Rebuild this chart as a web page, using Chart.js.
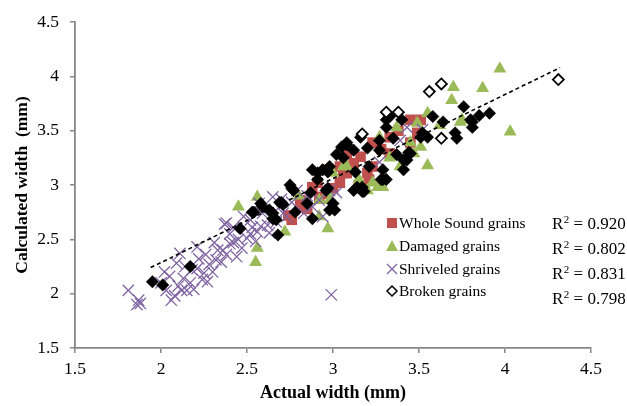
<!DOCTYPE html>
<html>
<head>
<meta charset="utf-8">
<script src="https://cdn.jsdelivr.net/npm/chart.js@4/dist/chart.umd.min.js"></script>
<style>
  body { margin: 0; background: #fff; }
  #wrap { width: 627px; height: 406px; position: relative; }
</style>
</head>
<body>
<div id="wrap"><canvas id="chartGrains"></canvas></div>
<script>
const wholeSound = [
  [2.76,2.68],[2.81,2.86],[2.91,3.02],[2.92,2.89],[3.06,3.11],[3.04,3.02],[2.74,2.72],[2.81,2.80],
  [2.96,3.14],[3.04,3.17],[3.20,3.11],[3.23,3.39],[3.21,3.05],[3.33,3.44],[3.45,3.60],[3.45,3.39],
  [3.49,3.48],[3.16,3.26],[3.08,3.29],[3.51,3.60],[3.33,3.29],[3.23,3.17],[3.08,3.11],[2.88,2.98],
  [2.85,2.78],[3.00,2.97],[3.12,3.20],[3.28,3.33],[3.38,3.50],[3.15,3.00],[2.96,2.92]
];
const damaged = [
  [2.45,2.80],[2.56,2.42],[2.55,2.29],[2.72,2.57],[2.92,2.71],[2.97,2.60],[2.56,2.89],[2.92,2.86],
  [2.98,2.86],[3.08,3.17],[3.97,4.07],[3.87,3.89],[3.70,3.90],[3.69,3.78],[4.03,3.49],[3.55,3.18],
  [3.74,3.58],[3.49,3.57],[3.55,3.66],[3.45,3.39],[3.51,3.35],[3.39,3.17],[3.23,3.02],[3.06,3.17],
  [2.97,2.93],[3.29,2.98],[3.26,2.98],[3.20,2.95],[3.47,3.29],[3.37,3.53],[3.27,3.44],[3.00,3.11],
  [3.75,3.60],[2.80,2.90],[3.62,3.55],[3.15,3.05],[3.33,3.25]
];
const shriveled = [
  [1.81,2.03],[1.86,1.90],[1.87,1.94],[1.88,1.91],[2.02,2.20],[2.05,2.16],[2.06,1.94],[2.03,2.03],
  [2.11,2.37],[2.21,2.43],[2.12,2.03],[2.17,2.10],[2.25,2.19],[2.27,2.11],[2.09,2.28],[2.21,2.23],
  [2.32,2.31],[2.36,2.40],[2.38,2.65],[2.40,2.46],[2.44,2.34],[2.08,1.98],[2.15,2.03],[2.24,2.13],
  [2.30,2.20],[2.38,2.36],[2.42,2.47],[2.50,2.51],[2.56,2.57],[2.62,2.63],[2.65,2.70],[2.59,2.74],
  [2.71,2.74],[2.37,2.64],[2.42,2.61],[2.48,2.71],[2.53,2.61],[2.59,2.77],[2.65,2.89],[2.69,2.80],
  [2.73,2.71],[2.79,2.95],[2.83,2.74],[2.88,2.80],[2.94,2.71],[2.98,2.95],[3.02,2.93],[3.27,3.21],
  [3.39,3.41],[3.43,3.53],[3.52,3.51],[2.99,1.99],[2.13,2.14],[2.18,2.22],[2.22,2.32],[2.28,2.27],
  [2.33,2.40],[2.35,2.29],[2.45,2.50],[2.47,2.42],[2.52,2.55],[2.55,2.48],[2.58,2.62],[2.63,2.56],
  [2.67,2.66],[2.10,2.07],[2.19,2.04],[2.26,2.36],[2.31,2.47],[2.00,2.10],[2.14,2.25],[2.40,2.55],
  [2.52,2.68],[2.57,2.83],[2.70,2.87],[2.76,2.84],[2.85,2.90],[2.92,2.86]
];
const brokenFilled = [
  [1.95,2.11],[2.01,2.08],[2.17,2.25],[2.46,2.60],[2.53,2.75],[2.58,2.83],[2.65,2.74],[2.67,2.68],
  [2.68,2.54],[2.71,2.82],[2.78,2.75],[2.88,2.69],[2.85,2.83],[2.63,2.77],[2.70,2.84],[2.76,2.97],
  [2.87,2.93],[2.88,3.14],[2.91,3.11],[2.97,3.12],[2.98,3.17],[2.97,2.97],[3.00,2.83],[3.01,2.77],
  [3.02,3.28],[3.06,3.25],[2.94,3.14],[2.96,2.95],[3.05,3.35],[3.08,3.39],[3.12,3.32],[3.13,3.12],
  [3.17,2.98],[3.12,2.95],[3.20,3.34],[3.27,3.41],[3.29,3.14],[3.31,3.53],[3.33,3.63],[3.37,3.28],
  [3.41,3.23],[3.41,3.14],[3.44,3.30],[3.35,3.43],[3.51,3.44],[3.58,3.63],[3.64,3.58],[3.55,3.44],
  [3.31,3.05],[3.28,3.05],[3.76,3.72],[3.71,3.48],[3.72,3.43],[3.80,3.60],[3.81,3.53],[3.85,3.64],
  [3.91,3.66],[3.17,2.94],[3.52,3.48],[3.81,3.58],[3.31,3.60],[3.40,3.60],[3.16,3.44],[3.08,3.37],
  [2.91,3.05],[2.77,2.95],[2.75,3.00],[2.69,2.84],[2.59,2.80],[2.54,2.75],[2.65,2.69],[2.98,2.77],
  [3.14,2.98],[3.18,2.94],[3.29,3.05],[3.45,3.29],[3.43,3.23],[3.27,3.32],[3.21,3.17]
];
const brokenHollow = [
  [3.31,3.67],[3.38,3.67],[3.17,3.47],[3.56,3.86],[3.63,3.93],[3.63,3.43],[4.31,3.97]
];
// linea de tendencia (extremos)
const trendX = [1.94, 4.32];
const trendY = [2.24, 4.08];

const seriesNames = ['Whole Sound grains', 'Damaged grains', 'Shriveled grains', 'Broken grains'];
const rSquared = ['0.920', '0.802', '0.831', '0.798'];
const xTicks = [1.5, 2, 2.5, 3, 3.5, 4, 4.5];
const yTicks = [1.5, 2, 2.5, 3, 3.5, 4, 4.5];

const colorRed = '#C0504D';
const colorGreen = '#9BBB59';
const colorPurple = '#8064A2';
const colorAxis = '#868686';
const serif = '"Liberation Serif", "Times New Roman", serif';

const toXY = arr => arr.map(p => ({ x: p[0], y: p[1] }));

// leyenda y R2 dibujados dentro del area
const legendPlugin = {
  id: 'legendInside',
  afterDraw(chart) {
    const ctx = chart.ctx;
    ctx.save();
    ctx.textBaseline = 'middle';
    const rows = [223, 246, 269, 291];
    const sx = 392;
    // simbolos
    ctx.fillStyle = colorRed;
    ctx.fillRect(sx - 5, rows[0] - 5, 10, 10);
    ctx.fillStyle = colorGreen;
    ctx.beginPath();
    ctx.moveTo(sx, rows[1] - 6); ctx.lineTo(sx + 6, rows[1] + 5); ctx.lineTo(sx - 6, rows[1] + 5);
    ctx.closePath(); ctx.fill();
    ctx.strokeStyle = colorPurple; ctx.lineWidth = 1.3;
    ctx.beginPath();
    ctx.moveTo(sx - 5, rows[2] - 5); ctx.lineTo(sx + 5, rows[2] + 5);
    ctx.moveTo(sx + 5, rows[2] - 5); ctx.lineTo(sx - 5, rows[2] + 5);
    ctx.stroke();
    ctx.strokeStyle = '#000'; ctx.lineWidth = 1.5;
    ctx.beginPath();
    ctx.moveTo(sx, rows[3] - 5); ctx.lineTo(sx + 5, rows[3]); ctx.lineTo(sx, rows[3] + 5); ctx.lineTo(sx - 5, rows[3]);
    ctx.closePath(); ctx.stroke();
    ctx.fillStyle = '#000';
    ctx.font = '15.5px ' + serif;
    seriesNames.forEach((n, i) => ctx.fillText(n, 399, rows[i] + 1));
    // R2
    const rRows = [224, 249, 274, 299];
    rSquared.forEach((v, i) => {
      let x = 552;
      ctx.font = '17px ' + serif;
      ctx.fillText('R', x, rRows[i] + 1);
      x += ctx.measureText('R').width;
      ctx.font = '11px ' + serif;
      ctx.fillText('2', x + 0.5, rRows[i] - 4);
      x += ctx.measureText('2').width + 0.5;
      ctx.font = '17px ' + serif;
      ctx.fillText(' = ' + v, x, rRows[i] + 1);
    });
    ctx.restore();
  }
};

Chart.defaults.font.family = serif;
Chart.defaults.font.size = 17.5;
Chart.defaults.color = '#000';

new Chart(document.getElementById('chartGrains'), {
  type: 'scatter',
  data: {
    datasets: [
      {
        type: 'line',
        label: 'trend',
        data: trendX.map((x, i) => ({ x: x, y: trendY[i] })),
        borderColor: '#000',
        borderWidth: 1.6,
        borderDash: [4, 3],
        pointRadius: 0,
        fill: false,
        order: 0
      },
      {
        label: 'Broken grains',
        data: toXY(brokenHollow),
        pointStyle: 'rectRot',
        pointRadius: 5.5,
        backgroundColor: '#fff',
        borderColor: '#000',
        borderWidth: 1.8,
        order: 1
      },
      {
        label: 'Broken grains (filled)',
        data: toXY(brokenFilled),
        pointStyle: 'rectRot',
        pointRadius: 6.2,
        backgroundColor: '#000',
        borderColor: '#000',
        borderWidth: 0.5,
        order: 2
      },
      {
        label: 'Shriveled grains',
        data: toXY(shriveled),
        pointStyle: 'crossRot',
        pointRadius: 8,
        borderColor: colorPurple,
        borderWidth: 1.3,
        order: 3
      },
      {
        label: 'Damaged grains',
        data: toXY(damaged),
        pointStyle: 'triangle',
        pointRadius: 7.5,
        backgroundColor: colorGreen,
        borderColor: colorGreen,
        borderWidth: 0,
        order: 4
      },
      {
        label: 'Whole Sound grains',
        data: toXY(wholeSound),
        pointStyle: 'rect',
        pointRadius: 7.5,
        backgroundColor: colorRed,
        borderColor: colorRed,
        borderWidth: 0,
        order: 5
      }
    ]
  },
  options: {
    responsive: true,
    maintainAspectRatio: false,
    animation: false,
    layout: { padding: { top: 22, right: 36, left: 0, bottom: 0 } },
    plugins: {
      legend: { display: false },
      tooltip: { enabled: false }
    },
    scales: {
      x: {
        type: 'linear',
        min: 1.5,
        max: 4.5,
        afterBuildTicks: s => { s.ticks = xTicks.map(v => ({ value: v })); },
        afterFit: s => { s.height = 58; },
        ticks: { padding: 6, callback: v => String(v) },
        grid: { drawOnChartArea: false, drawTicks: true, tickLength: 5, color: colorAxis, lineWidth: 1.5 },
        border: { color: colorAxis, width: 1.8 },
        title: { display: true, text: 'Actual width (mm)', font: { weight: 'bold', size: 18 }, padding: { top: 0, bottom: 2 } }
      },
      y: {
        type: 'linear',
        min: 1.5,
        max: 4.5,
        afterBuildTicks: s => { s.ticks = yTicks.map(v => ({ value: v })); },
        afterFit: s => { s.width = 75; },
        ticks: { padding: 11, callback: v => String(v) },
        grid: { drawOnChartArea: false, drawTicks: true, tickLength: 5, color: colorAxis, lineWidth: 1.5 },
        border: { color: colorAxis, width: 1.8 },
        title: { display: true, text: 'Calculated width  (mm)', font: { weight: 'bold', size: 17.5 }, padding: { top: 12, bottom: 0 } }
      }
    }
  },
  plugins: [legendPlugin]
});
</script>
</body>
</html>
